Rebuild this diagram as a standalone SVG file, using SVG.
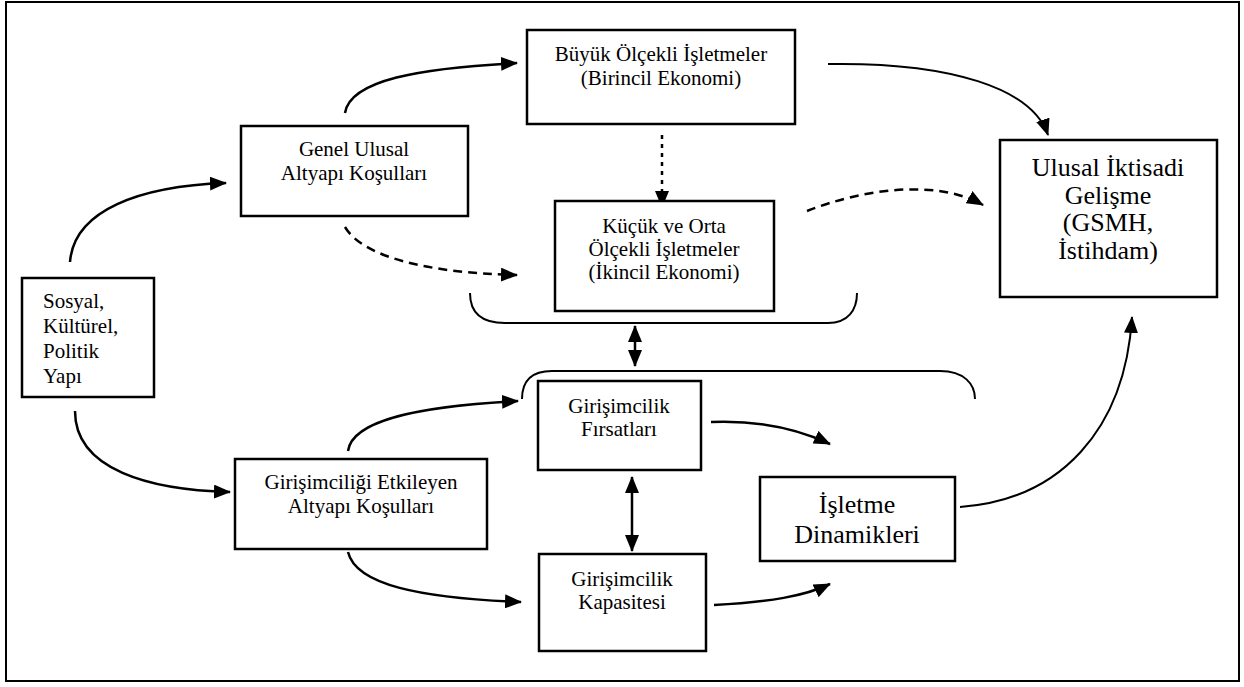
<svg xmlns="http://www.w3.org/2000/svg" width="1244" height="687" viewBox="0 0 1244 687">
<defs>
<marker id="ah" markerUnits="userSpaceOnUse" markerWidth="17" markerHeight="14" refX="16" refY="7" orient="auto-start-reverse">
<path d="M0,0 L17,7 L0,14 z" fill="#000"/>
</marker>
<style>
.box{fill:#fff;stroke:#000;stroke-width:2.5}
.t{font-size:21px;fill:#000;text-anchor:middle}
.tl{font-size:21px;fill:#000}
.tb{font-size:26px;fill:#000;text-anchor:middle}
.c{fill:none;stroke:#000;stroke-width:2.5}
.thin{fill:none;stroke:#000;stroke-width:2}
.dash{stroke-dasharray:9,6}
.dot{stroke-dasharray:4,5}
</style>
</defs>
<rect x="0" y="0" width="1244" height="687" fill="#fff"/>
<rect x="6" y="2" width="1233" height="679" fill="none" stroke="#000" stroke-width="2"/>

<g id="connectors">
<path class="c" d="M70,262 C74,210 140,186 226,183" marker-end="url(#ah)"/>
<path class="c" d="M345,113 C350,80 420,68 517,63" marker-end="url(#ah)"/>
<path class="c dash" d="M345,227 C362,256 425,273 517,275" marker-end="url(#ah)"/>
<path class="c dot" d="M662,135 L662,207" marker-end="url(#ah)"/>
<path class="thin" d="M828,64 C950,62 1032,88 1048,135" marker-end="url(#ah)"/>
<path class="c dash" d="M807,211 C860,190 935,178 983,205" marker-end="url(#ah)"/>
<path class="thin" d="M470,293 C470,313 482,323 505,323 L828,323 C848,323 857,310 857,293"/>
<path class="c" d="M635,326 L635,366" marker-start="url(#ah)" marker-end="url(#ah)"/>
<path class="thin" d="M522,399 C522,381 532,371 552,371 L940,371 C964,371 975,384 975,399"/>
<path class="c" d="M348,451 C352,420 420,406 518,401" marker-end="url(#ah)"/>
<path class="c" d="M348,552 C356,585 420,598 521,602" marker-end="url(#ah)"/>
<path class="c" d="M75,411 C75,470 150,490 230,492" marker-end="url(#ah)"/>
<path class="c" d="M632,477 L632,551" marker-start="url(#ah)" marker-end="url(#ah)"/>
<path class="c" d="M711,422 C760,420 800,430 830,444" marker-end="url(#ah)"/>
<path class="c" d="M714,605 C770,602 805,596 830,584" marker-end="url(#ah)"/>
<path class="thin" d="M960,507 C1060,500 1125,430 1132,317" marker-end="url(#ah)"/>
</g>

<g font-family="Liberation Serif, DejaVu Serif, serif">
<g id="buyuk">
<rect class="box" x="527" y="30" width="268" height="94"/>
<text class="t" x="661" y="61">Büyük Ölçekli İşletmeler</text>
<text class="t" x="661" y="85">(Birincil Ekonomi)</text>
</g>

<g id="genel">
<rect class="box" x="241" y="126" width="227" height="90"/>
<text class="t" x="354" y="156">Genel Ulusal</text>
<text class="t" x="354" y="180">Altyapı Koşulları</text>
</g>

<g id="kucuk">
<rect class="box" x="555" y="201" width="219" height="110"/>
<text class="t" x="664" y="233">Küçük ve Orta</text>
<text class="t" x="664" y="256">Ölçekli İşletmeler</text>
<text class="t" x="664" y="279">(İkincil Ekonomi)</text>
</g>

<g id="ulusal">
<rect class="box" x="1000" y="140" width="217" height="157"/>
<text class="tb" x="1108" y="176">Ulusal İktisadi</text>
<text class="tb" x="1108" y="204">Gelişme</text>
<text class="tb" x="1108" y="231">(GSMH,</text>
<text class="tb" x="1108" y="259">İstihdam)</text>
</g>

<g id="sosyal">
<rect class="box" x="22" y="278" width="132" height="119"/>
<text class="tl" x="43" y="308">Sosyal,</text>
<text class="tl" x="43" y="333">Kültürel,</text>
<text class="tl" x="43" y="358">Politik</text>
<text class="tl" x="43" y="383">Yapı</text>
</g>

<g id="firsatlari">
<rect class="box" x="538" y="381" width="163" height="89"/>
<text class="t" x="619" y="413">Girişimcilik</text>
<text class="t" x="619" y="436">Fırsatları</text>
</g>

<g id="etkileyen">
<rect class="box" x="235" y="459" width="252" height="90"/>
<text class="t" x="361" y="489">Girişimciliği Etkileyen</text>
<text class="t" x="361" y="513">Altyapı Koşulları</text>
</g>

<g id="isletme">
<rect class="box" x="760" y="477" width="195" height="84"/>
<text class="tb" x="857" y="513">İşletme</text>
<text class="tb" x="857" y="543">Dinamikleri</text>
</g>

<g id="kapasitesi">
<rect class="box" x="539" y="554" width="167" height="97"/>
<text class="t" x="622" y="586">Girişimcilik</text>
<text class="t" x="622" y="609">Kapasitesi</text>
</g>
</g>
</svg>
